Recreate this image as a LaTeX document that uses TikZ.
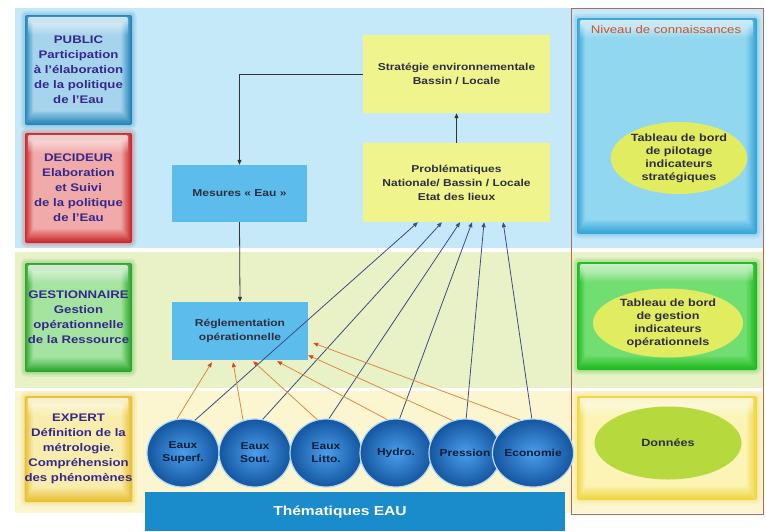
\documentclass[tikz,border=0pt]{standalone}
\usepackage{fontspec}
\setmainfont{Liberation Sans}[FakeStretch=1.2]
\usetikzlibrary{calc,arrows.meta,shapes.geometric,fadings}
\definecolor{bandB}{HTML}{C6E9F9}
\definecolor{bandG}{HTML}{E8F2C6}
\definecolor{bandY}{HTML}{FCF6D0}
\definecolor{pubE}{HTML}{2585B8}
\definecolor{pubC}{HTML}{A8D5EE}
\definecolor{decE}{HTML}{C92828}
\definecolor{decC}{HTML}{F2ABAB}
\definecolor{gesE}{HTML}{2AA52A}
\definecolor{gesC}{HTML}{A6E4A2}
\definecolor{expE}{HTML}{E6BE30}
\definecolor{expC}{HTML}{F9EDAE}
\definecolor{rbE}{HTML}{34A4D6}
\definecolor{rbC}{HTML}{92D8F0}
\definecolor{rgE}{HTML}{1FBA1F}
\definecolor{rgC}{HTML}{72DE72}
\definecolor{ryE}{HTML}{EFD640}
\definecolor{ryC}{HTML}{FBF4B6}
\definecolor{txtL}{HTML}{35288A}
\definecolor{txtM}{HTML}{2E2E40}
\definecolor{txtC}{HTML}{0F1C3A}
\definecolor{yelBox}{HTML}{EFF58C}
\definecolor{skyBox}{HTML}{5CBDEC}
\definecolor{ellY}{HTML}{E2EC60}
\definecolor{ellG}{HTML}{B6D93E}
\definecolor{barB}{HTML}{1A8BCB}
\definecolor{frameR}{HTML}{B4685A}
\definecolor{niv}{HTML}{D2502A}
\definecolor{lineB}{HTML}{3E4C84}
\definecolor{lineO}{HTML}{D98A4A}
\definecolor{tipO}{HTML}{D64A22}
\definecolor{ballC}{HTML}{4A9EEC}
\definecolor{ballE}{HTML}{14559F}
\definecolor{ballR}{HTML}{B4DAF4}
\begin{document}
\begin{tikzpicture}[x=1pt,y=-1pt,
  gloss/.style n args={2}{draw=none, fill=#1, rounded corners=2pt,
    preaction={draw=#1, line width=9pt, opacity=0.10},
    preaction={draw=#1, line width=5pt, opacity=0.15},
    path picture={
      \foreach \k [evaluate=\k as \p using int(\k*8.3)] in {1,...,12}{
        \fill[#2!\p!#1, rounded corners=1pt]
          ([shift={(\k*0.7pt,-\k*0.7pt)}]path picture bounding box.north west) rectangle
          ([shift={(-\k*0.9pt,\k*1.2pt)}]path picture bounding box.south east);
      }
      \fill[white, path fading=south, fill opacity=0.75]
        ([shift={(3pt,-2pt)}]path picture bounding box.north west) rectangle
        ([shift={(-4pt,-20pt)}]path picture bounding box.north east);
    }},
  leftbox/.style={minimum width=107pt, inner sep=0pt, align=center, text=txtL,
    font=\fontsize{11}{15}\selectfont\bfseries},
  rightbox/.style={minimum width=180pt, inner sep=0pt},
  ell/.style={ellipse, inner sep=0pt, align=center, text=txtM,
    font=\fontsize{10.5}{13}\selectfont\bfseries},
  midbox/.style={inner sep=0pt, align=center, text=txtM,
    font=\fontsize{10}{14}\selectfont\bfseries},
  ball/.style={ellipse, minimum width=72pt, minimum height=68pt, inner sep=0pt,
    inner color=ballC, outer color=ballE, draw=ballR, line width=1.2pt,
    align=center, text=txtC, font=\fontsize{10}{13}\selectfont\bfseries},
  blk/.style={draw=black!80, line width=0.8pt, -{Triangle[length=5pt,width=4pt]}},
  bl/.style={draw=lineB, line width=0.8pt, -{Triangle[length=5pt,width=4pt]}},
  orn/.style={draw=lineO, line width=0.8pt, -{Triangle[length=5pt,width=4pt,color=tipO]}}
]
\useasboundingbox (0,0) rectangle (766,531);
\fill[white] (0,0) rectangle (766,531);
% bands
\fill[bandB] (15,8) rectangle (763,248);
\fill[bandG] (15,252) rectangle (763,388);
\fill[bandY] (15,391) rectangle (763,513);

% left boxes
\node[gloss={pubE}{pubC}, leftbox, minimum height=110pt] (pub) at (78.5,70)
  {PUBLIC\\Participation\\à l'élaboration\\de la politique\\de l'Eau};
\node[gloss={decE}{decC}, leftbox, minimum height=110pt] (dec) at (78.5,188)
  {DECIDEUR\\Elaboration\\et Suivi\\de la politique\\de l'Eau};
\node[gloss={gesE}{gesC}, leftbox, minimum height=109pt] (ges) at (78.5,317.5)
  {GESTIONNAIRE\\Gestion\\opérationnelle\\de la Ressource};
\node[gloss={expE}{expC}, leftbox, minimum height=106pt] (exp) at (78.5,449)
  {EXPERT\\Définition de la\\métrologie.\\Compréhension\\des phénomènes};

% right column
\node[gloss={rbE}{rbC}, rightbox, minimum height=216pt] (rb) at (667,126) {};
\node[gloss={rgE}{rgC}, rightbox, minimum height=108pt] (rg) at (667,316) {};
\node[gloss={ryE}{ryC}, rightbox, minimum height=104pt] (ry) at (667,448) {};
\node[text=niv, font=\fontsize{11}{13}\selectfont] (niveau) at (666,30) {Niveau de connaissances};
\node[ell, fill=ellY, minimum width=124pt, minimum height=72pt] (e1) at (679,158)
  {Tableau de bord\\de pilotage\\indicateurs\\stratégiques};
\node[ell, fill=ellY, minimum width=150pt, minimum height=67pt] (e2) at (668,323)
  {Tableau de bord\\de gestion\\indicateurs\\opérationnels};
\node[ell, fill=ellG, minimum width=147pt, minimum height=73pt] (e3) at (668,443)
  {Données};
\draw[frameR, line width=0.8pt] (571,8) rectangle (763,514);

% middle boxes
\node[midbox, fill=yelBox, minimum width=187pt, minimum height=78pt] (strat) at (456.5,74)
  {Stratégie environnementale\\Bassin / Locale};
\node[midbox, fill=yelBox, minimum width=187pt, minimum height=79pt] (prob) at (456.5,182.5)
  {Problématiques\\Nationale/ Bassin / Locale\\Etat des lieux};
\node[midbox, fill=skyBox, minimum width=135pt, minimum height=57pt] (mes) at (239.5,193.5)
  {Mesures « Eau »};
\node[midbox, fill=skyBox, minimum width=136pt, minimum height=58pt] (reg) at (240,331)
  {Réglementation\\opérationnelle};

% black arrows
\draw[blk] (strat.west) -| (mes.north);
\draw[blk] (prob.north) -- (strat.south);
\draw[blk] (mes.south) -- (reg.north);

% circles
\node[ball] (c1) at (183,453) {Eaux\\Superf.};
\node[ball] (c2) at (255,453) {Eaux\\Sout.};
\node[ball] (c3) at (326,453) {Eaux\\Litto.};
\node[ball] (c4) at (396,453) {Hydro.};
\node[ball] (c5) at (465,453) {Pression};
\node[ball] (c6) at (533,453) {Economie};

% blue connectors to Problematiques
\draw[bl] (c1.70) -- ($(prob.south west)!0.294!(prob.south east)$);
\draw[bl] (c2.77) -- ($(prob.south west)!0.422!(prob.south east)$);
\draw[bl] (c3.85) -- ($(prob.south west)!0.519!(prob.south east)$);
\draw[bl] (c4.84) -- ($(prob.south west)!0.583!(prob.south east)$);
\draw[bl] (c5.88) -- ($(prob.south west)!0.647!(prob.south east)$);
\draw[bl] (c6.92) -- ($(prob.south west)!0.749!(prob.south east)$);

% orange connectors to Reglementation
\draw[orn] (c1.100) -- ([yshift=-2pt]$(reg.south west)!0.294!(reg.south east)$);
\draw[orn] (c2.110) -- ([yshift=-2pt]$(reg.south west)!0.449!(reg.south east)$);
\draw[orn] (c3.105) -- ([yshift=-1pt]$(reg.south west)!0.596!(reg.south east)$);
\draw[orn] (c4.105) -- ([yshift=-1pt]$(reg.south west)!0.772!(reg.south east)$);
\draw[orn] (c5.111) -- ([yshift=5pt]reg.south east);
\draw[orn] (c6.111) -- ([xshift=5pt,yshift=-12pt]reg.east);

% bottom bar
\node[fill=barB, minimum width=420pt, minimum height=39pt, inner sep=0pt] (bar) at (355,511.5) {};
\node[text=white, font=\fontsize{13}{15}\selectfont\bfseries] (barT) at (340,512) {Thématiques EAU};
\end{tikzpicture}
\end{document}
